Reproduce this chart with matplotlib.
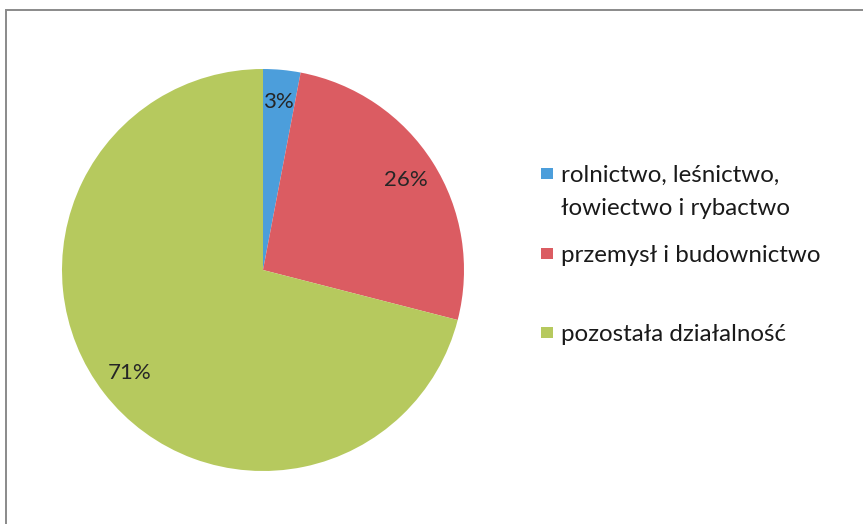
import matplotlib
matplotlib.use("Agg")
import matplotlib.pyplot as plt
from matplotlib.patches import Rectangle

# Udział sektorów (procent)
sectors = ["rolnictwo, leśnictwo,\nłowiectwo i rybactwo",
           "przemysł i budownictwo",
           "pozostała działalność"]
shares = [3, 26, 71]
colors = ["#4c9edb", "#db5c62", "#b6c95e"]

W, H = 863, 524
plt.rcParams["font.family"] = ["Lato", "DejaVu Sans"]

fig = plt.figure(figsize=(W / 100, H / 100), dpi=100)
fig.patch.set_facecolor("white")


def px(x, y):
    return x / W, 1 - y / H


# chart frame (bottom and right edges run off the image)
fig.add_artist(Rectangle(px(6, 560), (W + 40) / W, 550 / H,
                         transform=fig.transFigure, fill=False,
                         edgecolor="#8a8a8a", linewidth=1.4))

# pie area
cx, cy, r = 263, 270, 201
ax = fig.add_axes([(cx - r) / W, (H - cy - r) / H, 2 * r / W, 2 * r / H])
wedges, texts, autotexts = ax.pie(
    shares, colors=colors, startangle=90, counterclock=False,
    autopct="%.0f%%", pctdistance=0.84, radius=1,
    wedgeprops=dict(linewidth=0),
    textprops=dict(fontsize=16, color="#262626"))
ax.set_xlim(-1, 1)
ax.set_ylim(-1, 1)
ax.set_aspect("equal")
ax.axis("off")

# legend: square + label lines, each line placed on its own baseline
legend_rows = [(168, 182), (248, 262), (327, 341)]
line_step = 33
for (sq_top, baseline), label, col in zip(legend_rows, sectors, colors):
    x0, y0 = px(541, sq_top + 11)
    fig.add_artist(Rectangle((x0, y0), 12 / W, 11 / H,
                             transform=fig.transFigure,
                             facecolor=col, edgecolor="none"))
    for i, line in enumerate(label.split("\n")):
        tx, ty = px(561, baseline + i * line_step)
        fig.text(tx, ty, line, fontsize=17.4, color="#1a1a1a",
                 va="baseline", ha="left")

fig.savefig("out.png", dpi=100)
